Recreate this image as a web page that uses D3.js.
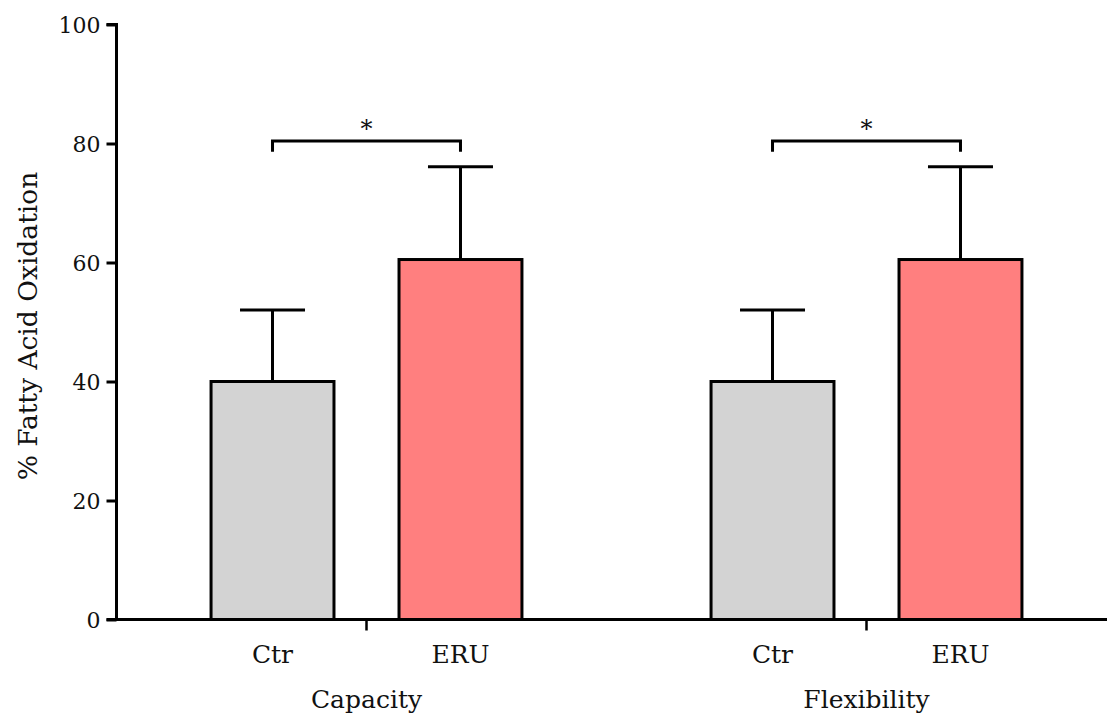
<!DOCTYPE html>
<html>
<head>
<meta charset="utf-8">
<script src="https://cdn.jsdelivr.net/npm/d3@7"></script>
<style>
  body { margin: 0; background: #fff; }
  text { font-family: "DejaVu Serif", "Liberation Serif", serif; fill: #111; }
</style>
</head>
<body>
<div id="chart"></div>
<script>
// data
const groups = ['Capacity', 'Flexibility'];
const conditions = ['Ctr', 'ERU'];
const means = [[40, 60.5], [40, 60.5]];
const errors = [[12, 15.6], [12, 15.6]];
const sigLabels = ['*', '*'];
const yTicks = [0, 20, 40, 60, 80, 100];
const barColors = ['#d3d3d3', '#ff7f7f'];

const svgWidth = 1107;
const svgHeight = 720;
const margin = { top: 24.5, left: 116.5 };
const height = 595;

const svg = d3.select('#chart').append('svg')
    .attr('width', svgWidth)
    .attr('height', svgHeight);
const g = svg.append('g').attr('transform', `translate(${margin.left}, ${margin.top})`);

const yScale = d3.scaleLinear().domain([0, 100]).range([height, 0]);
const xGroup = d3.scaleBand().domain(groups).range([0, 1000]);
const xCond = d3.scaleBand().domain(conditions).range([0, xGroup.bandwidth()])
    .paddingInner(0.346).paddingOuter(0.503);

// y axis
const yAxis = g.append('g')
    .call(d3.axisLeft(yScale).tickValues(yTicks).tickSize(10).tickPadding(6));
yAxis.select('.domain').attr('stroke', '#000').attr('stroke-width', 3)
    .attr('d', `M0,${height}V0H-10`);
yAxis.selectAll('.tick line').attr('stroke', '#000').attr('stroke-width', 3);
yAxis.selectAll('.tick text').style('font-size', '22px').style('font-family', '"DejaVu Serif", serif')
    .attr('dy', '0.36em').attr('fill', '#111');

// x axis line + group ticks
g.append('line')
    .attr('x1', -10).attr('x2', svgWidth - margin.left)
    .attr('y1', height).attr('y2', height)
    .attr('stroke', '#000').attr('stroke-width', 3);
g.selectAll('.gtick').data(groups).enter().append('line')
    .attr('x1', d => xGroup(d) + xGroup.bandwidth() / 2)
    .attr('x2', d => xGroup(d) + xGroup.bandwidth() / 2)
    .attr('y1', height).attr('y2', height + 11)
    .attr('stroke', '#000').attr('stroke-width', 2.5);

// flatten into records
const rows = [];
groups.forEach((grp, i) => {
    conditions.forEach((c, j) => {
        rows.push({ group: grp, cond: c, mean: means[i][j], err: errors[i][j], ci: j });
    });
});
const cx = d => xGroup(d.group) + xCond(d.cond) + xCond.bandwidth() / 2;

// error bars (upper only)
g.selectAll('.err').data(rows).enter().append('line')
    .attr('x1', cx).attr('x2', cx)
    .attr('y1', d => yScale(d.mean)).attr('y2', d => yScale(d.mean + d.err))
    .attr('stroke', '#000').attr('stroke-width', 3);
g.selectAll('.cap').data(rows).enter().append('line')
    .attr('x1', d => cx(d) - 32.5).attr('x2', d => cx(d) + 32.5)
    .attr('y1', d => yScale(d.mean + d.err)).attr('y2', d => yScale(d.mean + d.err))
    .attr('stroke', '#000').attr('stroke-width', 3);

// bars
g.selectAll('.bar').data(rows).enter().append('rect')
    .attr('x', d => xGroup(d.group) + xCond(d.cond))
    .attr('y', d => yScale(d.mean))
    .attr('width', xCond.bandwidth())
    .attr('height', d => height - yScale(d.mean))
    .attr('fill', d => barColors[d.ci])
    .attr('stroke', '#000').attr('stroke-width', 3);

// condition labels
g.selectAll('.clab').data(rows).enter().append('text')
    .attr('x', cx).attr('y', height + 43)
    .attr('text-anchor', 'middle')
    .style('font-size', '25px')
    .text(d => d.cond);

// group labels
g.selectAll('.glab').data(groups).enter().append('text')
    .attr('x', d => xGroup(d) + xGroup.bandwidth() / 2).attr('y', height + 88)
    .attr('text-anchor', 'middle')
    .style('font-size', '25px')
    .text(d => d);

// significance brackets
groups.forEach((grp, i) => {
    const x1 = xGroup(grp) + xCond('Ctr') + xCond.bandwidth() / 2;
    const x2 = xGroup(grp) + xCond('ERU') + xCond.bandwidth() / 2;
    const yTop = yScale(80.4), yEnd = yScale(78.6);
    g.append('path')
        .attr('d', `M${x1},${yEnd}V${yTop}H${x2}V${yEnd}`)
        .attr('fill', 'none').attr('stroke', '#000').attr('stroke-width', 3);
    g.append('text')
        .attr('x', (x1 + x2) / 2).attr('y', yTop - 4)
        .attr('text-anchor', 'middle')
        .style('font-size', '24px')
        .text(sigLabels[i]);
});

// y label
svg.append('text')
    .attr('transform', `translate(37, 326) rotate(-90)`)
    .attr('text-anchor', 'middle')
    .style('font-size', '26.5px')
    .text('% Fatty Acid Oxidation');
</script>
</body>
</html>
